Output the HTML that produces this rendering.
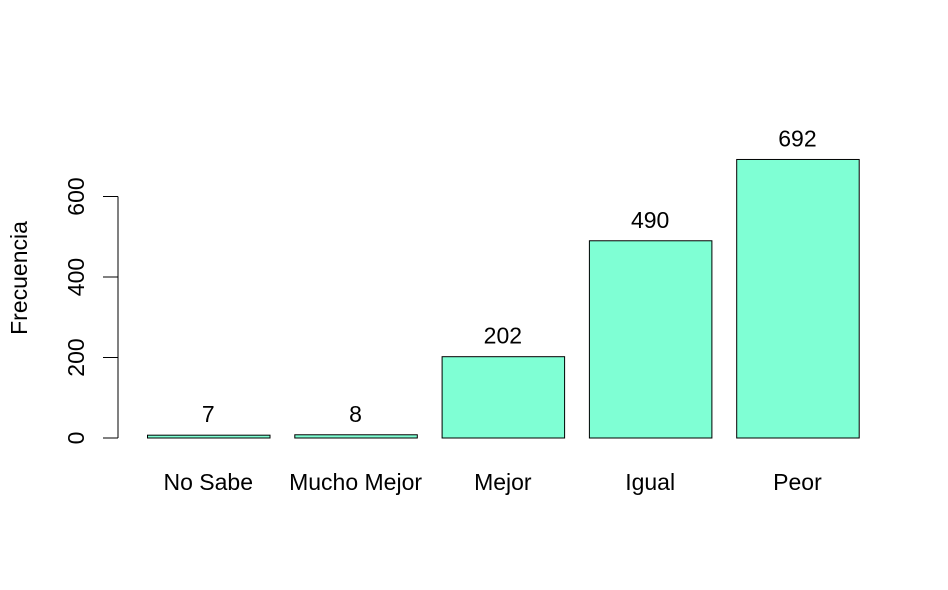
<!DOCTYPE html>
<html><head><meta charset="utf-8"><style>
html,body{margin:0;padding:0;background:#fff}
svg text{font-family:"Liberation Sans",Arial,sans-serif;font-size:23px;fill:#000}
</style></head><body>
<svg id="chart" width="948" height="585" xmlns="http://www.w3.org/2000/svg">
<rect width="948" height="585" fill="#fff"/>
<g id="yaxis"></g>
<g id="bars"></g>
<text transform="translate(27,278) rotate(-90)" text-anchor="middle">Frecuencia</text>
</svg>
<script>
const categories = ["No Sabe","Mucho Mejor","Mejor","Igual","Peor"];
const values = [7,8,202,490,692];
const yTicks = [0,200,400,600];
const NS="http://www.w3.org/2000/svg";
const y0=438, pxPerUnit=(438-196.5)/600;
function y(v){return y0 - v*pxPerUnit;}
function xLeft(i){return 147 + i*147.3;}
const barW=122.5;
const ya=document.getElementById('yaxis');
let l=document.createElementNS(NS,'line');


l.setAttribute('x1',118);l.setAttribute('x2',118);l.setAttribute('y1',y(yTicks[0]));l.setAttribute('y2',y(yTicks[yTicks.length-1]));l.setAttribute('stroke','#000');
ya.appendChild(l);
yTicks.forEach(t=>{
  const tk=document.createElementNS(NS,'line');
  
  
  tk.setAttribute('x1',103);tk.setAttribute('x2',118);tk.setAttribute('y1',y(t));tk.setAttribute('y2',y(t));tk.setAttribute('stroke','#000');
  ya.appendChild(tk);
  const tx=document.createElementNS(NS,'text');
  
  
  tx.setAttribute('transform','translate(84,'+y(t)+') rotate(-90)');
  tx.setAttribute('text-anchor','middle');
  tx.textContent=t;
  ya.appendChild(tx);
});
const bg=document.getElementById('bars');
values.forEach((v,i)=>{
  const r=document.createElementNS(NS,'rect');
  
  
  r.setAttribute('x',xLeft(i)+0.5);r.setAttribute('y',y(v));r.setAttribute('width',barW);r.setAttribute('height',y0-y(v));
  r.setAttribute('fill','#7fffd4');r.setAttribute('stroke','#000');r.setAttribute('stroke-width','1');
  bg.appendChild(r);
  const vl=document.createElementNS(NS,'text');
  
  
  vl.setAttribute('x',xLeft(i)+barW/2);vl.setAttribute('y',y(v)-13);vl.setAttribute('text-anchor','middle');
  vl.textContent=v;
  bg.appendChild(vl);
  const cl=document.createElementNS(NS,'text');
  
  
  cl.setAttribute('x',xLeft(i)+barW/2);cl.setAttribute('y',490);cl.setAttribute('text-anchor','middle');
  cl.textContent=categories[i];
  bg.appendChild(cl);
});
</script>
</body></html>
